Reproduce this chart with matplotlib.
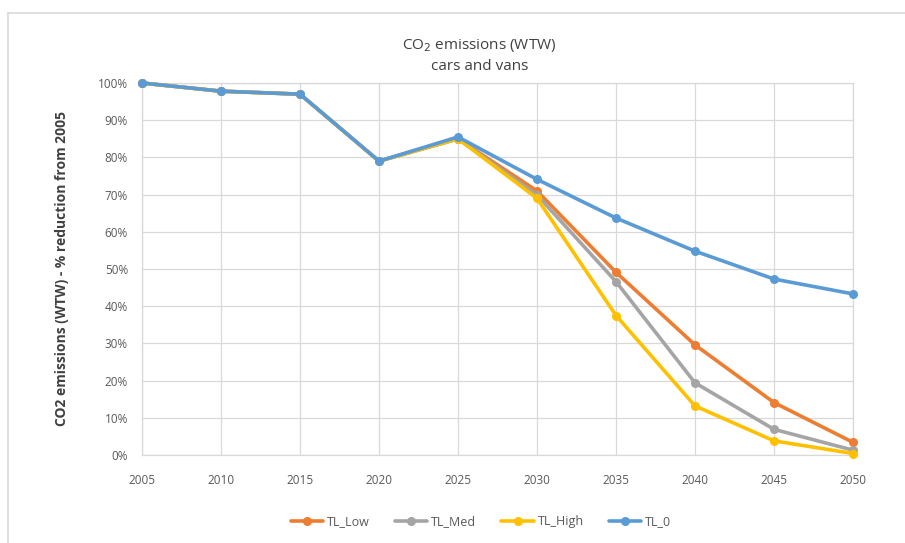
import numpy as np
import matplotlib
matplotlib.use("Agg")
import matplotlib.pyplot as plt
from matplotlib.lines import Line2D
from matplotlib.ticker import PercentFormatter

plt.rcParams["font.family"] = ["Open Sans", "DejaVu Sans"]

years = [2005, 2010, 2015, 2020, 2025, 2030, 2035, 2040, 2045, 2050]
tl_low = [100, 97.8, 97.0, 79.0, 85.0, 71.0, 49.1, 29.6, 14.1, 3.4]
tl_med = [100, 97.8, 97.0, 79.0, 85.0, 69.9, 46.6, 19.4, 6.9, 1.3]
tl_high = [100, 97.8, 97.0, 79.0, 85.0, 69.0, 37.5, 13.2, 3.8, 0.4]
tl_0 = [100, 97.8, 97.0, 79.0, 85.5, 74.1, 63.7, 54.8, 47.3, 43.3]

series = [
    ("TL_Low", tl_low, "#ED7D31"),
    ("TL_Med", tl_med, "#A5A5A5"),
    ("TL_High", tl_high, "#FFC000"),
    ("TL_0", tl_0, "#5B9BD5"),
]

W, H = 905, 543
fig = plt.figure(figsize=(W / 100, H / 100), dpi=100, facecolor="white")
ax = fig.add_axes([142 / W, 1 - 455 / H, (853 - 142) / W, (455 - 83) / H])

for name, vals, col in series:
    ax.plot(years, vals, color=col, lw=2.6, marker="o", ms=5.5, label=name,
            solid_capstyle="round", zorder=3, clip_on=False)

ax.set_xlim(2005, 2050)
ax.set_ylim(0, 100)
ax.set_xticks(years)
ax.set_yticks(np.arange(0, 101, 10))
ax.yaxis.set_major_formatter(PercentFormatter(decimals=0))
ax.grid(True, color="#D9D9D9", lw=0.9, zorder=0)
for s in ax.spines.values():
    s.set_color("#D9D9D9")
    s.set_linewidth(0.9)
ax.tick_params(length=0, labelsize=8.5, labelcolor="#595959")
ax.tick_params(axis="x", pad=14)
ax.tick_params(axis="y", pad=10)

ax.set_ylabel("CO2 emissions (WTW) - % reduction from 2005", fontsize=10,
              fontweight="bold", color="#404040", labelpad=21)

fig.text(0.53, 1 - 45 / H, "CO$_2$ emissions (WTW)", ha="center", va="center",
         fontsize=11, color="#404040")
fig.text(0.53, 1 - 66 / H, "cars and vans", ha="center", va="center",
         fontsize=11, color="#404040")

leg = fig.legend(loc="center", bbox_to_anchor=(481 / W, 1 - 522 / H), ncol=4,
                 frameon=False, fontsize=9, handlelength=2.6, columnspacing=2.0,
                 handletextpad=0.3)
for t in leg.get_texts():
    t.set_color("#595959")

# outer chart frame
fig.add_artist(Line2D([8 / W, 1], [1 - 13 / H, 1 - 13 / H], transform=fig.transFigure,
                      color="#D9D9D9", lw=1.2))
fig.add_artist(Line2D([8 / W, 8 / W], [0, 1 - 13 / H], transform=fig.transFigure,
                      color="#D9D9D9", lw=1.2))

fig.savefig("out.png", dpi=100, facecolor="white")
